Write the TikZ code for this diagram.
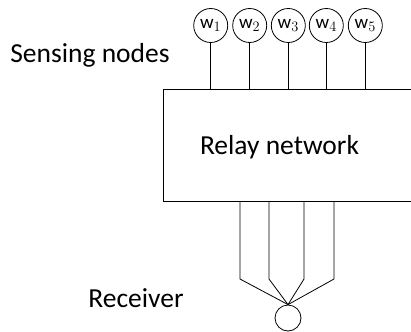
\documentclass[tikz,border=0pt]{standalone}
\usepackage{fontspec}
\setmainfont{Carlito}
\begin{document}
\begin{tikzpicture}[x=1pt,y=-1pt,
  line width=0.8pt,
  sensor/.style={draw,circle,minimum size=34pt,inner sep=0pt,font=\fontsize{19}{19}\selectfont},
  lbl/.style={font=\fontsize{27.5}{27.5}\selectfont,inner sep=0pt}]
\useasboundingbox (0,0) rectangle (411,331);
\clip (0,0) rectangle (411,331);
\node[sensor] (w1) at (210.7,25.5) {$\mathrm{w}_1$};
\node[sensor] (w2) at (249.7,25.5) {$\mathrm{w}_2$};
\node[sensor] (w3) at (288.3,25.5) {$\mathrm{w}_3$};
\node[sensor] (w4) at (326.3,25.5) {$\mathrm{w}_4$};
\node[sensor] (w5) at (365.3,25.5) {$\mathrm{w}_5$};
\node[draw,anchor=north west,minimum width=280pt,minimum height=112pt,inner sep=0pt] (relay) at (163,89) {};
\node[lbl] (rl) at (279.5,147) {Relay network};
\node[lbl] (sn) at (90,55) {Sensing nodes};
\node[lbl] (rv) at (136,298) {Receiver};
\node[draw,circle,minimum size=26pt,inner sep=0pt] (rx) at (288,318) {};
\foreach \i in {1,...,5}{\draw (w\i) -- (w\i |- relay.north);}
\coordinate (k1) at (240,279);
\coordinate (k2) at (269,279);
\coordinate (k3) at (304,279);
\coordinate (k4) at (334,279);
\foreach \i in {1,...,4}{\draw (k\i |- relay.south) -- (k\i) -- (rx.north);}
\end{tikzpicture}
\end{document}
